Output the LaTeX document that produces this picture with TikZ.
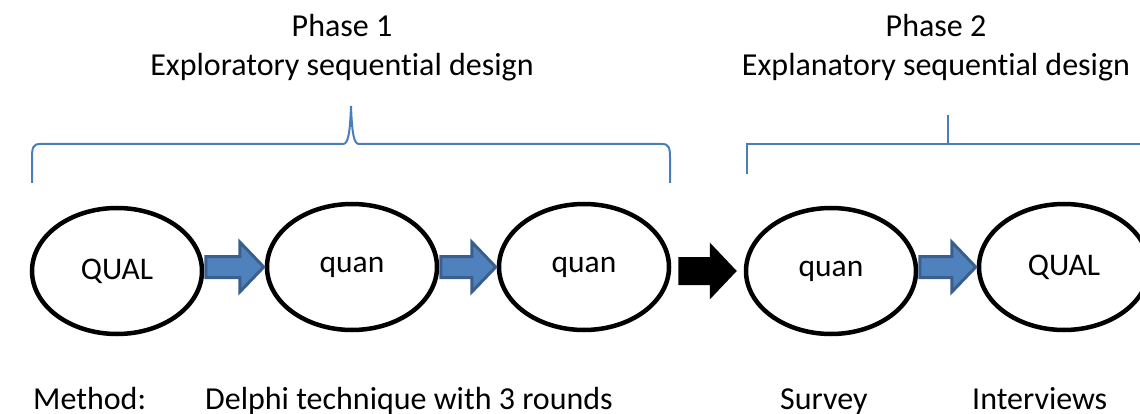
\documentclass[tikz,border=0pt]{standalone}
\usepackage{fontspec}
\setmainfont{Carlito}[Ligatures=NoCommon]
\usetikzlibrary{shapes.geometric,calc}
\definecolor{accentblue}{HTML}{4F81BD}
\definecolor{accentedge}{HTML}{3A5F8C}
\definecolor{bracecol}{HTML}{4A7EBB}
\tikzset{
  stage/.style={ellipse, draw=black, line width=4.5pt, minimum width=170pt,
    minimum height=126pt, inner sep=0pt, font=\fontsize{31.5}{36}\selectfont},
  captxt/.style={font=\fontsize{32}{38}\selectfont, inner sep=0pt},
  bracket/.style={draw=bracecol, line width=2pt},
  bluearrow/.style={fill=accentblue, draw=accentedge, line width=3pt, line join=miter},
  blackarrow/.style={fill=black},
}
% block arrow from the east side of #2 to the west side of #3
% #4 gap at start, #5 gap at tip, #6 shaft half-height, #7 head half-height, #8 head length
\newcommand\drawblockarrow[8]{%
  \path[#1] let \p1=(#2.east), \p2=(#3.west) in
    (\x1+#4, \y2+#6) -- (\x2-#5-#8, \y2+#6) -- (\x2-#5-#8, \y2+#7) --
    (\x2-#5, \y2) -- (\x2-#5-#8, \y2-#7) -- (\x2-#5-#8, \y2-#6) --
    (\x1+#4, \y2-#6) -- cycle;}
\begin{document}
\begin{tikzpicture}[x=1pt, y=-1pt]
  \useasboundingbox (0,0) rectangle (1140,414);

  % headings
  \node[captxt, anchor=base] (ph1) at (342,37) {Phase 1};
  \node[captxt, anchor=base] (ph1d) at (342,76) {Exploratory sequential design};
  \node[captxt, anchor=base] (ph2) at (936,37) {Phase 2};
  \node[captxt, anchor=base] (ph2d) at (936,76) {Explanatory sequential design};

  % brackets
  \draw[bracket] (32,183) -- (32,158) .. controls (32,148) and (33,144) .. (40,144)
    -- (343,144) .. controls (348,144) and (350,134) .. (351,106)
    .. controls (352,134) and (354,144) .. (359,144)
    -- (662,144) .. controls (669,144) and (670,148) .. (670,158) -- (670,183);
  \draw[bracket] (747,174) -- (747,144) -- (1150,144);
  \draw[bracket] (948,144) -- (948,115);

  % stages
  \node[stage] (s1) at (117,271) {QUAL};
  \node[stage] (s2) at (352,267) {quan};
  \node[stage] (s3) at (584,267) {quan};
  \node[stage] (s4) at (831,271) {quan};
  \node[stage] (s5) at (1064,267) {QUAL};

  % arrows between stages
  \drawblockarrow{bluearrow}{s1}{s2}{1.5pt}{1pt}{10.5pt}{25pt}{24pt}
  \drawblockarrow{bluearrow}{s2}{s3}{1.5pt}{1pt}{10.5pt}{25pt}{24pt}
  \drawblockarrow{blackarrow}{s3}{s4}{7pt}{7pt}{14pt}{28.5pt}{27pt}
  \drawblockarrow{bluearrow}{s4}{s5}{1.5pt}{1pt}{10.5pt}{25pt}{24pt}

  % methods
  \node[captxt, anchor=base west] (mlabel) at (33,409) {Method:};
  \node[captxt, anchor=base west] (m1) at (205,409) {Delphi technique with 3 rounds};
  \node[captxt, anchor=base west] (m2) at (780,409) {Survey};
  \node[captxt, anchor=base west] (m3) at (972,409) {Interviews};
\end{tikzpicture}
\end{document}
